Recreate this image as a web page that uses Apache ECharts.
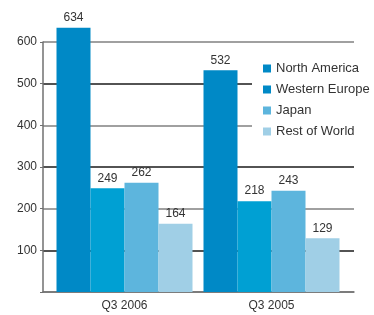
<!DOCTYPE html>
<html>
<head>
<meta charset="utf-8">
<script src="https://cdn.jsdelivr.net/npm/echarts@6/dist/echarts.min.js"></script>
<style>
  html, body { margin: 0; padding: 0; background: #fff; }
  #chart { width: 374px; height: 315px; }
</style>
</head>
<body>
<div id="chart"></div>
<script>
const categories = ['Q3 2006', 'Q3 2005'];
const regions = ['North America', 'Western Europe', 'Japan', 'Rest of World'];
const northAmerica = [634, 532];
const westernEurope = [249, 218];
const japan = [262, 243];
const restOfWorld = [164, 129];
const yTicks = [0, 100, 200, 300, 400, 500, 600];

const seriesValues = [northAmerica, westernEurope, japan, restOfWorld];
const colors = ['#0089c6', '#00a0d3', '#5db5dd', '#a0cfe6'];
const legendColors = ['#0089c6', '#0089c6', '#5db5dd', '#a0cfe6'];
const font = '"Liberation Sans", Arial, sans-serif';

const chart = echarts.init(document.getElementById('chart'));

const option = {
  animation: false,
  textStyle: { fontFamily: font },
  grid: [
    { left: 43, right: 20, top: 42, bottom: 23 },   // axis lines + gridlines
    { left: 51, right: 29, top: 42, bottom: 23 }    // bars
  ],
  legend: {
    orient: 'vertical',
    left: 252,
    top: 56,
    backgroundColor: '#fff',
    padding: [6, 4, 6, 11],
    itemWidth: 8,
    itemHeight: 8,
    itemGap: 8,
    icon: 'rect',
    textStyle: { fontSize: 13, color: '#333', fontFamily: font },
    data: regions.map((r, i) => ({ name: r, itemStyle: { color: legendColors[i] } }))
  },
  xAxis: [
    {
      gridIndex: 0,
      type: 'category',
      data: categories,
      axisLine: { show: true, lineStyle: { color: '#707070', width: 1.5 } },
      axisTick: { show: false },
      axisLabel: { show: false },
      splitLine: { show: false }
    },
    {
      gridIndex: 1,
      type: 'category',
      data: categories,
      axisLine: { show: false },
      axisTick: { show: false },
      axisLabel: { fontSize: 12, color: '#333', margin: 8, fontFamily: font },
      splitLine: { show: false }
    }
  ],
  yAxis: [
    {
      gridIndex: 0,
      type: 'value',
      min: yTicks[0],
      max: yTicks[yTicks.length - 1],
      interval: 100,
      axisLine: { show: true, lineStyle: { color: '#707070', width: 1.5 } },
      axisTick: { show: true, length: 3, lineStyle: { color: '#707070' } },
      axisLabel: { fontSize: 12, color: '#333', margin: 6, fontFamily: font,
        formatter: v => v === 0 ? '' : v },
      splitLine: { show: true, lineStyle: { color: ['#808080', '#1a1a1a'], width: 1.5 } }
    },
    {
      gridIndex: 1,
      type: 'value',
      min: yTicks[0],
      max: yTicks[yTicks.length - 1],
      interval: 100,
      show: false
    }
  ],
  series: regions.map((name, i) => ({
    name: name,
    type: 'bar',
    xAxisIndex: 1,
    yAxisIndex: 1,
    data: seriesValues[i],
    barWidth: 34,
    barGap: '0%',
    clip: false,
    itemStyle: { color: colors[i] },
    label: {
      show: true,
      position: 'top',
      distance: 4,
      fontSize: 12,
      color: '#333',
      fontFamily: font
    }
  }))
};

chart.setOption(option);
</script>
</body>
</html>
